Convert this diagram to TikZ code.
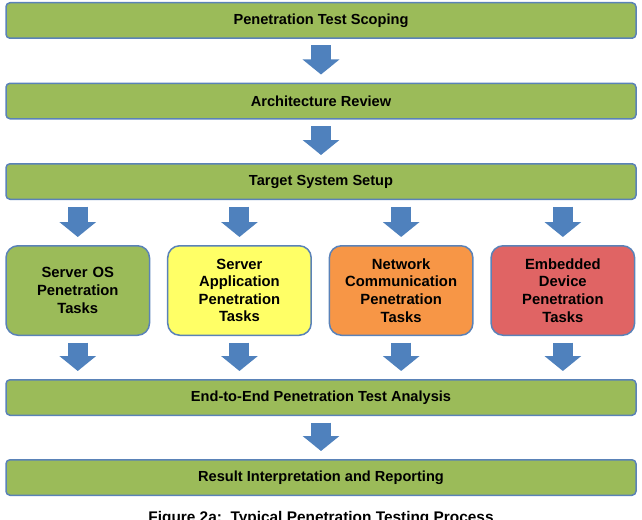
\documentclass[tikz,border=0pt]{standalone}
\usepackage{fontspec}
\setmainfont{Liberation Sans}
\usetikzlibrary{arrows.meta,positioning,calc}
\definecolor{phasegreen}{HTML}{9BBB59}
\definecolor{appyellow}{HTML}{FFFF66}
\definecolor{netorange}{HTML}{F79646}
\definecolor{devred}{HTML}{E06464}
\definecolor{edgeblue}{HTML}{5A82B8}
\definecolor{arrowblue}{HTML}{4F81BD}

\begin{document}
\begin{tikzpicture}[x=1pt, y=1pt,
    bar/.style={draw=edgeblue, line width=1.5pt, rounded corners=4pt,
                fill=phasegreen, minimum width=630pt, minimum height=35.5pt,
                font=\fontsize{14.6}{17}\selectfont\bfseries},
    task/.style={draw=edgeblue, line width=1.5pt, rounded corners=12pt,
                 fill=#1, minimum width=143.5pt, minimum height=89.5pt,
                 text width=134pt, align=center,
                 font=\fontsize{14.8}{17.6}\selectfont\bfseries},
    blockarr/.style={arrowblue, line width=20pt,
                     -{Triangle[length=15pt,width=36pt]},
                     shorten <=6.5pt, shorten >=8pt},
    node distance=43.5pt
  ]
    \useasboundingbox (0,0) rectangle (642,-519);

    \node[bar] (scope) at (321,-20.5) {Penetration Test Scoping};
    \node[bar, below=of scope] (arch) {Architecture Review};
    \node[bar, below=of arch] (setup) {Target System Setup};

    % Parallel tasks
    \node[task=phasegreen, below=45pt of setup.south west, anchor=north west] (srvos)
      {Server OS\\Penetration\\Tasks};
    \node[task=appyellow, right=16.7pt of srvos] (srvapp)
      {Server\\Application\\Penetration\\Tasks};
    \node[task=netorange, right=16.7pt of srvapp] (netcom)
      {Network\\Communication\\Penetration\\Tasks};
    \node[task=devred, right=16.7pt of netcom] (embdev)
      {Embedded\\Device\\Penetration\\Tasks};

    \node[bar, anchor=north] (e2e) at ([yshift=-43pt]srvos.south -| setup.south)
      {End-to-End Penetration Test Analysis};
    \node[bar, below=43pt of e2e] (report) {Result Interpretation and Reporting};

    \draw[blockarr] (scope) -- (arch);
    \draw[blockarr] (arch) -- (setup);
    \foreach \t in {srvos,srvapp,netcom,embdev} {
      \draw[blockarr] (setup.south -| \t.north) -- (\t.north);
      \draw[blockarr] (\t.south) -- (e2e.north -| \t.south);
    }
    \draw[blockarr] (e2e) -- (report);

    % Caption
    \node[anchor=base, font=\fontsize{15.4}{18}\selectfont\bfseries] (caption) at (321,-522.5)
      {Figure 2a:\ \ Typical Penetration Testing Process};
  \end{tikzpicture}
\end{document}
